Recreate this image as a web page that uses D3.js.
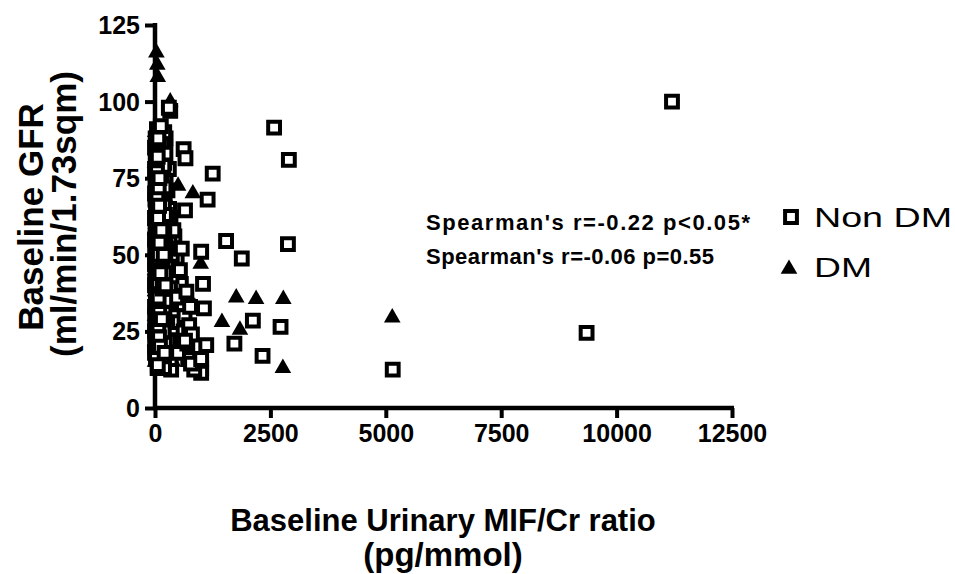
<!DOCTYPE html>
<html>
<head>
<meta charset="utf-8">
<title>GFR vs MIF/Cr</title>
<script src="https://cdnjs.cloudflare.com/ajax/libs/d3/7.8.5/d3.min.js"></script>
<style>
  body { margin: 0; background: #fff; }
  text { font-family: "Liberation Sans", Arial, sans-serif; }
  .tick text { font-weight: bold; }
</style>
</head>
<body>
<svg id="chart" width="955" height="574"></svg>
<script>
// ticks
const xTicks = [0, 2500, 5000, 7500, 10000, 12500];
const yTicks = [0, 25, 50, 75, 100, 125];

// Non DM: [MIF/Cr ratio, GFR]
const nonDM = [
  [11200, 100], [2580, 91.5], [2900, 81], [2880, 53.5], [9350, 24.5], [5150, 12.5],
  [1250, 76.5], [1140, 68], [1540, 54.5], [1880, 48.8], [2120, 28.5], [2720, 26.5],
  [2330, 17], [1720, 21], [1110, 20.5], [1060, 32.5], [1000, 51], [1040, 40.5],
  [1000, 13], [1000, 11.5], [620, 84.5], [660, 81.5], [650, 64.5], [330, 97], [300, 98],
  [560, 40.5], [600, 33], [480, 22], [720, 16], [850, 12.5], [780, 14.5], [350, 12.5],
  [470, 49], [420, 56], [380, 45], [300, 78], [270, 71], [230, 88], [200, 90], [120, 85],
  [20, 62], [40, 71], [60, 55], [80, 48], [100, 40], [30, 35], [50, 28], [70, 22], [90, 18],
  [110, 25], [130, 30], [150, 44], [170, 52], [190, 60], [210, 66], [230, 74], [15, 80],
  [35, 86], [55, 90], [75, 68], [95, 58], [115, 50], [135, 38], [155, 32], [175, 26],
  [195, 20], [215, 16], [235, 42], [255, 36], [275, 30], [295, 46], [315, 54], [335, 62],
  [355, 24], [375, 19], [10, 45], [25, 52], [45, 40], [65, 33], [85, 61], [105, 72],
  [125, 77], [145, 83], [165, 64], [185, 57], [205, 49], [225, 28], [245, 23], [265, 17],
  [285, 60], [305, 65], [325, 40], [345, 34], [365, 50], [385, 27], [5, 20], [12, 28],
  [18, 38], [28, 58], [38, 66], [48, 44], [58, 18], [68, 76], [78, 84], [88, 30], [98, 36],
  [118, 63], [128, 47], [138, 21], [158, 14], [178, 70], [198, 80], [218, 56], [238, 62],
  [258, 46], [278, 52], [298, 22], [318, 31], [338, 16], [358, 43], [398, 58], [420, 30],
  [440, 26], [460, 36], [500, 18], [520, 28], [540, 45], [580, 52], [620, 25], [640, 30],
  [680, 38], [700, 21], [740, 27], [760, 33], [800, 24], [650, 22], [1000, 16],
  [0, 40], [0, 55], [0, 70], [5, 30], [8, 48], [10, 62], [12, 75], [14, 88], [16, 22],
  [18, 33], [22, 42], [24, 67], [26, 81], [32, 27], [34, 50], [36, 59], [42, 91], [44, 24],
  [46, 36], [52, 64], [54, 74], [56, 13], [62, 46], [64, 57], [66, 29], [72, 39], [74, 87],
  [76, 53], [82, 69], [84, 19], [86, 44], [92, 78], [94, 26], [96, 65], [102, 34], [104, 56],
  [106, 15], [112, 81], [114, 41], [116, 70], [122, 31], [124, 59], [126, 92], [132, 17],
  [134, 53], [136, 67], [142, 48], [144, 23], [146, 74], [152, 37], [154, 62], [156, 86],
  [162, 28], [164, 45], [166, 71], [172, 16], [174, 55], [176, 34], [182, 79], [184, 42],
  [186, 25], [192, 66], [194, 38], [196, 13], [202, 58], [204, 31], [206, 72], [212, 44],
  [214, 21], [216, 63], [222, 35], [224, 51], [226, 83],
  [0, 18], [0, 25], [0, 33], [0, 47], [0, 62], [0, 78], [0, 85], [3, 52], [6, 41], [9, 68],
  [11, 57], [13, 24], [17, 73], [21, 16], [23, 49], [27, 31], [29, 64], [31, 83], [33, 43],
  [37, 21], [39, 55], [41, 37], [43, 77], [47, 60], [49, 26], [51, 69], [53, 47], [57, 34],
  [59, 82], [61, 14], [63, 51], [67, 62], [69, 41], [71, 88], [73, 27], [77, 58], [79, 36],
  [81, 72], [83, 50], [87, 23], [89, 66], [91, 45], [93, 31], [97, 75], [99, 54],
  [108, 20], [118, 44], [138, 58], [148, 29], [168, 39], [188, 50], [208, 18], [228, 40]
];

// DM: [MIF/Cr ratio, GFR]
const dm = [
  [5140, 29.5], [2780, 35.5], [2190, 35.5], [1760, 36], [2770, 13], [1450, 28], [1840, 25.5],
  [820, 70], [500, 72.5], [990, 47], [540, 38.5], [600, 31], [700, 24], [760, 26], [650, 35],
  [860, 33], [30, 116], [50, 112], [60, 108], [330, 100],
  [20, 60], [40, 52], [60, 44], [80, 36], [100, 28], [120, 22], [140, 16], [160, 30], [180, 40],
  [200, 48], [220, 56], [240, 20], [260, 26], [280, 33], [300, 45], [320, 38], [340, 29],
  [10, 65], [30, 72], [50, 80], [70, 88], [90, 14], [110, 18], [130, 24], [150, 34], [170, 42],
  [190, 50], [210, 58], [230, 64], [250, 68], [15, 25], [35, 32], [55, 19], [75, 15], [95, 46],
  [115, 54], [135, 62], [400, 23], [420, 35], [450, 28], [480, 40], [380, 52],
  [0, 45], [0, 30], [5, 55], [8, 70], [12, 38], [18, 48], [22, 20], [28, 85], [38, 62],
  [44, 35], [48, 27], [58, 75], [62, 57], [68, 41], [78, 66], [84, 31], [88, 52], [102, 76],
  [108, 38], [122, 45], [128, 68], [142, 25], [148, 55], [162, 36], [168, 17], [182, 60],
  [188, 30], [202, 42], [208, 24], [222, 34], [232, 47], [262, 38], [292, 24], [312, 30],
  [362, 20], [392, 15],
  [0, 15], [0, 22], [0, 38], [0, 58], [0, 80], [4, 90], [16, 33], [26, 44], [34, 58],
  [46, 22], [54, 67], [66, 29], [74, 50], [86, 77], [96, 39], [112, 60], [118, 30], [132, 48]
];

const stats = ["Spearman's r=-0.22 p<0.05*", "Spearman's r=-0.06 p=0.55"];
const groups = ["Non DM", "DM"];

const svg = d3.select('#chart');
const x = d3.scaleLinear().domain([0, 12500]).range([155, 732]);
const y = d3.scaleLinear().domain([0, 125]).range([408, 25]);

// axes
const xAxis = svg.append('g')
  .attr('transform', 'translate(0,408)')
  .call(d3.axisBottom(x).tickValues(xTicks).tickFormat(d3.format('d'))
    .tickSize(10).tickPadding(6).tickSizeOuter(0));
const yAxis = svg.append('g')
  .attr('transform', 'translate(155,0)')
  .call(d3.axisLeft(y).tickValues(yTicks).tickFormat(d3.format('d'))
    .tickSize(10).tickPadding(5).tickSizeOuter(0));
xAxis.selectAll('.tick text').attr('font-size', 25);
yAxis.selectAll('.tick text').attr('font-size', 25).attr('dy', '0.34em');
[xAxis, yAxis].forEach(a => {
  a.select('.domain').attr('stroke', '#000').attr('stroke-width', 4.5);
  a.selectAll('.tick line').attr('stroke', '#000').attr('stroke-width', 4);
  a.selectAll('.tick text').attr('fill', '#000');
});
xAxis.select('.domain').attr('d', 'M' + (x(0) - 2) + ',0H' + (x(12500) + 2));
yAxis.select('.domain').attr('d', 'M0,' + (y(0) + 2) + 'V' + (y(125) - 2));

const sq = d3.symbol().type(d3.symbolSquare).size(140);
const tri = d3.symbol().type(d3.symbolTriangle).size(120);

svg.append('g').selectAll('path')
  .data(dm).join('path')
  .attr('d', tri)
  .attr('transform', d => `translate(${x(d[0])},${y(d[1])})`)
  .attr('fill', '#000');

svg.append('g').selectAll('path')
  .data(nonDM).join('path')
  .attr('d', sq)
  .attr('transform', d => `translate(${x(d[0])},${y(d[1])})`)
  .attr('fill', '#fff').attr('stroke', '#000').attr('stroke-width', 4);

// axis titles
svg.append('text')
  .attr('transform', 'translate(43,217) rotate(-90)')
  .attr('text-anchor', 'middle').attr('font-size', 35).attr('font-weight', 'bold')
  .text('Baseline GFR');
svg.append('text')
  .attr('transform', 'translate(76,214) rotate(-90)')
  .attr('text-anchor', 'middle').attr('font-size', 35).attr('font-weight', 'bold')
  .text('(ml/min/1.73sqm)');
svg.append('text')
  .attr('x', 443).attr('y', 531)
  .attr('text-anchor', 'middle').attr('font-size', 31).attr('font-weight', 'bold')
  .text('Baseline Urinary MIF/Cr ratio');
svg.append('text')
  .attr('x', 443).attr('y', 566)
  .attr('text-anchor', 'middle').attr('font-size', 33).attr('font-weight', 'bold')
  .text('(pg/mmol)');

// stats annotation
svg.append('g').selectAll('text')
  .data(stats).join('text')
  .attr('x', 426).attr('y', (d, i) => 230 + i * 34)
  .attr('font-size', 22).attr('font-weight', 'bold')
  .attr('textLength', (d, i) => i === 0 ? 324 : 288)
  .text(d => d);

// legend
const leg = svg.append('g');
leg.append('path').attr('d', sq).attr('transform', 'translate(791,217)')
  .attr('fill', '#fff').attr('stroke', '#000').attr('stroke-width', 4);
leg.append('path').attr('d', tri).attr('transform', 'translate(789,269)')
  .attr('fill', '#000');
leg.selectAll('text')
  .data(groups).join('text')
  .attr('x', 814).attr('y', (d, i) => 227 + i * 50)
  .attr('font-size', 27)
  .attr('textLength', (d, i) => i === 0 ? 138 : 58)
  .attr('lengthAdjust', 'spacingAndGlyphs')
  .text(d => d);
</script>
</body>
</html>
